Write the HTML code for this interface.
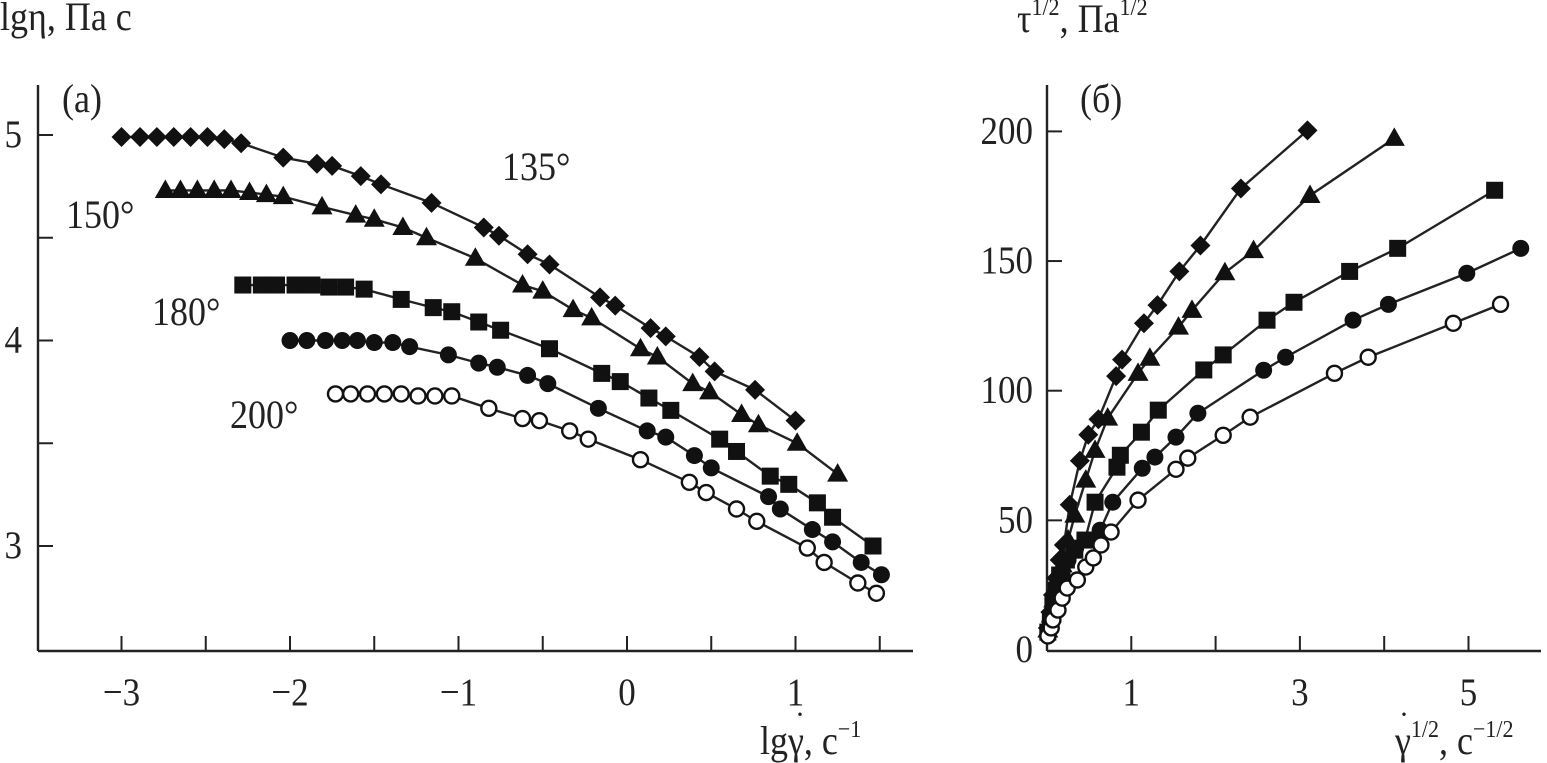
<!DOCTYPE html>
<html><head><meta charset="utf-8"><style>
body{margin:0;background:#fff;}
svg{display:block;font-family:"Liberation Serif",serif;}
</style></head><body>
<svg id="c" width="1547" height="763" xmlns="http://www.w3.org/2000/svg"></svg>
<script>
// Panel (a) data
const aDiamX=[-3.00,-2.89,-2.79,-2.69,-2.59,-2.49,-2.39,-2.29,-2.04,-1.84,-1.75,-1.58,-1.46,-1.16,-0.85,-0.76,-0.59,-0.46,-0.16,-0.07,0.14,0.23,0.43,0.52,0.76,1.00];
const aDiamY=[4.99,4.99,4.99,4.99,4.99,4.99,4.98,4.96,4.89,4.86,4.85,4.80,4.76,4.67,4.55,4.51,4.42,4.37,4.21,4.17,4.06,4.02,3.92,3.85,3.76,3.61];
const aTriX=[-2.74,-2.65,-2.55,-2.45,-2.35,-2.24,-2.14,-2.04,-1.81,-1.61,-1.50,-1.33,-1.19,-0.90,-0.62,-0.50,-0.32,-0.21,0.08,0.18,0.39,0.49,0.68,0.78,1.01,1.25];
const aTriY=[4.73,4.73,4.73,4.73,4.73,4.72,4.71,4.70,4.65,4.61,4.59,4.55,4.50,4.40,4.27,4.24,4.15,4.11,3.96,3.92,3.79,3.75,3.64,3.59,3.50,3.35];
const aSqX=[-2.28,-2.17,-2.08,-1.97,-1.87,-1.77,-1.67,-1.56,-1.34,-1.15,-1.04,-0.88,-0.75,-0.46,-0.15,-0.04,0.13,0.26,0.55,0.65,0.85,0.96,1.13,1.22,1.46];
const aSqY=[4.27,4.27,4.27,4.27,4.27,4.26,4.26,4.25,4.20,4.16,4.14,4.09,4.05,3.96,3.84,3.80,3.72,3.66,3.52,3.46,3.34,3.30,3.21,3.14,3.00];
const aCircX=[-2.00,-1.90,-1.79,-1.69,-1.60,-1.50,-1.39,-1.29,-1.06,-0.88,-0.77,-0.59,-0.47,-0.17,0.12,0.23,0.40,0.50,0.84,0.91,1.10,1.22,1.39,1.51];
const aCircY=[4.00,4.00,4.00,4.00,4.00,3.99,3.99,3.97,3.93,3.89,3.87,3.83,3.79,3.67,3.56,3.53,3.44,3.38,3.24,3.18,3.08,3.02,2.92,2.86];
const aOpenX=[-1.73,-1.64,-1.54,-1.44,-1.34,-1.24,-1.14,-1.04,-0.82,-0.62,-0.52,-0.34,-0.23,0.08,0.37,0.47,0.65,0.77,1.07,1.17,1.37,1.48];
const aOpenY=[3.74,3.74,3.74,3.74,3.74,3.73,3.73,3.73,3.67,3.62,3.61,3.56,3.52,3.42,3.31,3.26,3.18,3.12,2.99,2.92,2.82,2.77];
const aXTicks=[-3,-2,-1,0,1];
const aYTicks=[3,4,5];
// Panel (b) data
const bDiamX=[0.01,0.04,0.07,0.11,0.15,0.20,0.27,0.39,0.49,0.61,0.82,0.89,1.15,1.31,1.57,1.82,2.30,3.09];
const bDiamY=[8.5,14.6,21.2,27.7,34.7,40.5,56,73,83,89,105.6,112,126,133,146,156,178,200.4];
const bTriX=[0.01,0.05,0.08,0.13,0.18,0.25,0.33,0.46,0.57,0.72,1.08,1.22,1.56,1.72,2.11,2.45,3.12,4.12];
const bTriY=[7.7,13.5,19.3,26.2,32.8,42.4,52,65.5,77,89.4,106.7,112.5,124.5,131,145.5,154,175.3,197.3];
const bSqX=[0.01,0.04,0.07,0.11,0.15,0.23,0.33,0.45,0.57,0.83,0.87,1.12,1.32,1.86,2.09,2.61,2.93,3.59,4.16,5.31];
const bSqY=[6.9,11.6,17.3,23.1,28.9,34.7,38.5,42.4,57,70.5,75.1,84,92.5,108,113.8,127.2,134.1,146,154.9,177.3];
const bCircX=[0.01,0.04,0.07,0.12,0.18,0.25,0.34,0.49,0.63,0.78,1.13,1.28,1.53,1.79,2.57,2.83,3.63,4.05,4.98,5.62];
const bCircY=[6.9,11.6,17.3,23.1,28.9,34.7,39.3,42.4,46.2,57,70.1,74.4,82.1,91.3,107.9,112.9,127.2,133.3,145.3,154.9];
const bOpenX=[0.01,0.05,0.07,0.13,0.18,0.24,0.36,0.46,0.55,0.64,0.76,1.08,1.53,1.67,2.09,2.41,3.41,3.81,4.82,5.38];
const bOpenY=[5.4,8.5,11.6,15.4,20,23.9,27,32,35.5,40.5,45.5,57.8,69.7,74,82.8,89.8,106.7,112.9,126,133.3];
const bXTicks=[1,3,5];
const bYTicks=[0,50,100,150,200];

const NS="http://www.w3.org/2000/svg";
const svg=document.getElementById('c');
function mk(tag,attrs,parent){const e=document.createElementNS(NS,tag);for(const k in attrs)e.setAttribute(k,attrs[k]);(parent||svg).appendChild(e);return e;}
const ax=v=>627+v*168.5, ay=v=>135+(5-v)*205.5;
const bx=v=>1047+v*84.3, by=v=>650-v*2.593;

function axes(x0,y0,x1,yTop,name){
  const l1=mk('line',{x1:x0,y1:y0,x2:x1,y2:y0,stroke:'#222','stroke-width':2.4});
  
  
  const l2=mk('line',{x1:x0,y1:y0,x2:x0,y2:yTop,stroke:'#222','stroke-width':2.4});
  
  
}
function txt(x,y,s,size,anchor,name){
  const t=mk('text',{x:x,y:y,'font-size':size,'text-anchor':anchor||'start',fill:'#222'});
  t.innerHTML=s;
  
  
  return t;
}
function tall(t,x,y){t.setAttribute('transform',`translate(${x},${y}) scale(1,1.12) translate(${-x},${-y})`);}
function marker(kind,cx,cy,s){
  let e;
  if(kind==='diamond'){e=mk('polygon',{points:`${cx},${cy-10*s} ${cx+10*s},${cy} ${cx},${cy+10*s} ${cx-10*s},${cy}`,fill:'#111'});}
  else if(kind==='tri'){e=mk('polygon',{points:`${cx},${cy-11*s} ${cx+10.5*s},${cy+7.5*s} ${cx-10.5*s},${cy+7.5*s}`,fill:'#111'});}
  else if(kind==='sq'){e=mk('rect',{x:cx-8.5*s,y:cy-8.5*s,width:17*s,height:17*s,fill:'#111'});}
  else if(kind==='circ'){e=mk('circle',{cx:cx,cy:cy,r:8.5*s,fill:'#111'});}
  else {e=mk('circle',{cx:cx,cy:cy,r:7.5*s,fill:'#fff',stroke:'#111','stroke-width':2.4});}
  
  
}
function series(xs,ys,fx,fy,kind,name){
  const pts=xs.map((v,i)=>fx(v)+','+fy(ys[i])).join(' ');
  const p=mk('polyline',{points:pts,fill:'none',stroke:'#222','stroke-width':2.4});
  
  
  xs.forEach((v,i)=>marker(kind,fx(v),fy(ys[i]),1));
}

// Panel a axes
axes(38,651,913,85,'panel-a');
for(let v=-3;v<=1.51;v+=0.5){const t=mk('line',{x1:ax(v),y1:651,x2:ax(v),y2:636,stroke:'#222','stroke-width':2});}
for(let v=3;v<=5.01;v+=0.5){const t=mk('line',{x1:38,y1:ay(v),x2:53,y2:ay(v),stroke:'#222','stroke-width':2});}
aXTicks.forEach(v=>tall(txt(ax(v),705,(v<0?'−':'')+Math.abs(v),35,'middle','x-tick-label'),ax(v),705));
aYTicks.forEach(v=>tall(txt(22,ay(v)+12,String(v),35,'end','y-tick-label'),22,ay(v)+12));
series(aDiamX,aDiamY,ax,ay,'diamond','series-135');
series(aTriX,aTriY,ax,ay,'tri','series-150');
series(aSqX,aSqY,ax,ay,'sq','series-180');
series(aCircX,aCircY,ax,ay,'circ','series-190');
series(aOpenX,aOpenY,ax,ay,'open','series-200');
tall(txt(0,30,'lgη, Па с',36,'start','y-axis-title-a'),0,30);
tall(txt(62,112,'(a)',36,'start','panel-a-label'),62,112);
tall(txt(502,180,'135°',36,'start','label-135'),502,180);
tall(txt(66,228,'150°',36,'start','label-150'),66,228);
tall(txt(152,325,'180°',36,'start','label-180'),152,325);
tall(txt(230,428,'200°',36,'start','label-200'),230,428);
tall(txt(760,754,'lgγ, с<tspan font-size="22" dy="-15">−1</tspan>',36,'start','x-axis-title-a'),760,754);
txt(800,724,'·',30,'middle','gamma-dot-a');

// Panel b axes
axes(1047,651,1541,85,'panel-b');
for(let v=1;v<=5;v++){const t=mk('line',{x1:bx(v),y1:651,x2:bx(v),y2:636,stroke:'#222','stroke-width':2});}
bYTicks.forEach(v=>{if(v>0){const t=mk('line',{x1:1047,y1:by(v),x2:1062,y2:by(v),stroke:'#222','stroke-width':2});}});
bXTicks.forEach(v=>tall(txt(bx(v),705,String(v),35,'middle','x-tick-label'),bx(v),705));
bYTicks.forEach(v=>tall(txt(1033,by(v)+12,String(v),35,'end','y-tick-label'),1033,by(v)+12));
series(bDiamX,bDiamY,bx,by,'diamond','series-135');
series(bTriX,bTriY,bx,by,'tri','series-150');
series(bSqX,bSqY,bx,by,'sq','series-180');
series(bCircX,bCircY,bx,by,'circ','series-190');
series(bOpenX,bOpenY,bx,by,'open','series-200');
tall(txt(1017,32,'τ<tspan font-size="22" dy="-15">1/2</tspan><tspan dy="15">, Па</tspan><tspan font-size="22" dy="-15">1/2</tspan>',36,'start','y-axis-title-b'),1017,32);
tall(txt(1080,112,'(б)',36,'start','panel-b-label'),1080,112);
tall(txt(1395,754,'γ<tspan font-size="22" dy="-15">1/2</tspan><tspan dy="15">, с</tspan><tspan font-size="22" dy="-15">−1/2</tspan>',36,'start','x-axis-title-b'),1395,754);
txt(1404,724,'·',30,'middle','gamma-dot-b');
</script>
</body></html>
